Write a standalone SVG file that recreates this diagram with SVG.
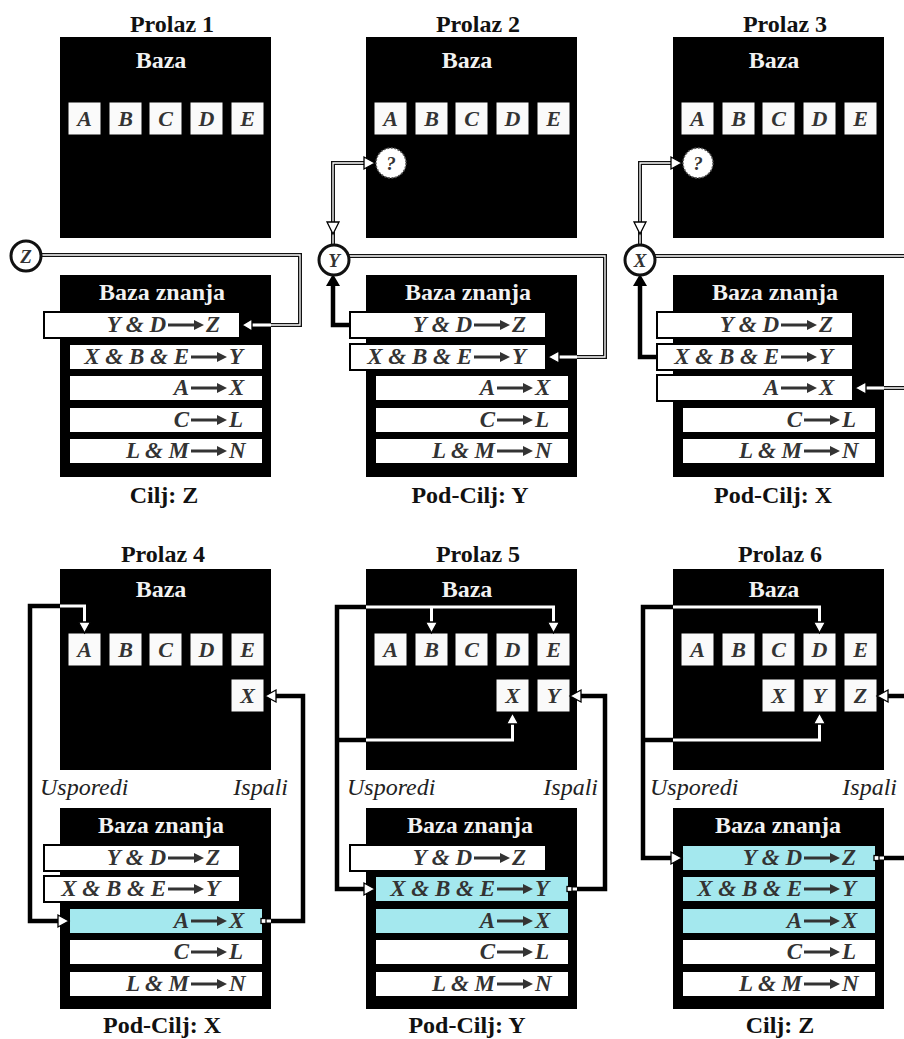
<svg xmlns="http://www.w3.org/2000/svg" xmlns:xlink="http://www.w3.org/1999/xlink" width="904" height="1039" viewBox="0 0 904 1039">
<style>
.t{font-family:"Liberation Serif","Times New Roman",serif;font-weight:bold;font-size:24px;fill:#111;text-anchor:middle}
.w{fill:#f2f2f2}
.bx{fill:#000}
.lb{fill:#fafafa;stroke:#000;stroke-width:1}
.lt{font-family:"Liberation Serif","Times New Roman",serif;font-style:italic;font-weight:bold;font-size:22px;fill:#333;text-anchor:middle}
.row{fill:#fff;stroke:#000;stroke-width:2}
.hl{fill:#a4e8ee;stroke:#000;stroke-width:2}
.rt{font-family:"Liberation Serif","Times New Roman",serif;font-style:italic;font-weight:bold;font-size:23px;fill:#333;text-anchor:end}
.rl{font-family:"Liberation Serif","Times New Roman",serif;font-style:italic;font-weight:bold;font-size:23px;fill:#333;text-anchor:start}
.lab{font-family:"Liberation Serif","Times New Roman",serif;font-style:italic;font-size:24px;fill:#222}
.c{fill:none;stroke:#000;stroke-width:4.5}
.cw{fill:none;stroke:#fff;stroke-width:3}
.d{fill:none;stroke:#111;stroke-width:4}
.dw{fill:none;stroke:#fff;stroke-width:1.3}
.ah{fill:#fff;stroke:#000;stroke-width:1.3}
.af{fill:#000}
.circ{fill:#fff;stroke:#111;stroke-width:3}
.q{fill:#fff;stroke:#555;stroke-width:1.5;stroke-dasharray:2 1.5}
.ct{font-family:"Liberation Serif","Times New Roman",serif;font-style:italic;font-weight:bold;font-size:19px;fill:#333;text-anchor:middle}
</style>
<defs>
<g id="ra"><line x1="0" y1="0" x2="28" y2="0" stroke="#333" stroke-width="3"/><polygon points="26,-5 36,0 26,5" fill="#333"/></g>
<clipPath id="k1"><rect x="60" y="37" width="211" height="201"/><rect x="60" y="275" width="211" height="202"/></clipPath>
<clipPath id="k2"><rect x="366" y="37" width="211" height="201"/><rect x="366" y="275" width="211" height="202"/></clipPath>
<clipPath id="k3"><rect x="673" y="37" width="211" height="201"/><rect x="673" y="275" width="211" height="202"/></clipPath>
<clipPath id="k4"><rect x="60" y="569" width="211" height="201"/><rect x="60" y="808" width="211" height="201"/></clipPath>
<clipPath id="k5"><rect x="366" y="569" width="211" height="201"/><rect x="366" y="808" width="211" height="201"/></clipPath>
<clipPath id="k6"><rect x="673" y="569" width="211" height="201"/><rect x="673" y="808" width="211" height="201"/></clipPath>
</defs>
<rect width="904" height="1039" fill="#fff"/>

<!-- ===== Prolaz 1 ===== -->
<g id="prolaz1">
<text class="t" x="172" y="32">Prolaz 1</text>
<rect class="bx" x="60" y="37" width="211" height="201"/>
<text class="t w" x="161" y="68">Baza</text>
<rect class="lb" x="68" y="102" width="33" height="33"/><text class="lt" x="84.5" y="126">A</text>
<rect class="lb" x="109" y="102" width="33" height="33"/><text class="lt" x="125.5" y="126">B</text>
<rect class="lb" x="149" y="102" width="33" height="33"/><text class="lt" x="165.5" y="126">C</text>
<rect class="lb" x="190" y="102" width="33" height="33"/><text class="lt" x="206.5" y="126">D</text>
<rect class="lb" x="231" y="102" width="33" height="33"/><text class="lt" x="247.5" y="126">E</text>
<rect class="bx" x="60" y="275" width="211" height="202"/>
<text class="t w" x="162" y="300">Baza znanja</text>
<rect class="row" x="44" y="312" width="196" height="26"/><text class="rt" x="166" y="332">Y &amp; D</text><use xlink:href="#ra" x="168" y="325"/><text class="rl" x="206" y="332">Z</text>
<rect class="row" x="69" y="344" width="194" height="26"/><text class="rt" x="189" y="364">X &amp; B &amp; E</text><use xlink:href="#ra" x="191" y="357"/><text class="rl" x="229" y="364">Y</text>
<rect class="row" x="69" y="375" width="194" height="26"/><text class="rt" x="189" y="395">A</text><use xlink:href="#ra" x="191" y="388"/><text class="rl" x="229" y="395">X</text>
<rect class="row" x="69" y="407" width="194" height="26"/><text class="rt" x="189" y="427">C</text><use xlink:href="#ra" x="191" y="420"/><text class="rl" x="229" y="427">L</text>
<rect class="row" x="69" y="438" width="194" height="26"/><text class="rt" x="189" y="458">L &amp; M</text><use xlink:href="#ra" x="191" y="451"/><text class="rl" x="229" y="458">N</text>
<text class="t" x="164" y="503">Cilj: Z</text>
</g>

<!-- ===== Prolaz 2 ===== -->
<g id="prolaz2">
<text class="t" x="478" y="32">Prolaz 2</text>
<rect class="bx" x="366" y="37" width="211" height="201"/>
<text class="t w" x="467" y="68">Baza</text>
<rect class="lb" x="374" y="102" width="33" height="33"/><text class="lt" x="390.5" y="126">A</text>
<rect class="lb" x="415" y="102" width="33" height="33"/><text class="lt" x="431.5" y="126">B</text>
<rect class="lb" x="455" y="102" width="33" height="33"/><text class="lt" x="471.5" y="126">C</text>
<rect class="lb" x="496" y="102" width="33" height="33"/><text class="lt" x="512.5" y="126">D</text>
<rect class="lb" x="537" y="102" width="33" height="33"/><text class="lt" x="553.5" y="126">E</text>
<rect class="bx" x="366" y="275" width="211" height="202"/>
<text class="t w" x="468" y="300">Baza znanja</text>
<rect class="row" x="350" y="312" width="196" height="26"/><text class="rt" x="472" y="332">Y &amp; D</text><use xlink:href="#ra" x="474" y="325"/><text class="rl" x="512" y="332">Z</text>
<rect class="row" x="350" y="344" width="196" height="26"/><text class="rt" x="472" y="364">X &amp; B &amp; E</text><use xlink:href="#ra" x="474" y="357"/><text class="rl" x="512" y="364">Y</text>
<rect class="row" x="375" y="375" width="194" height="26"/><text class="rt" x="495" y="395">A</text><use xlink:href="#ra" x="497" y="388"/><text class="rl" x="535" y="395">X</text>
<rect class="row" x="375" y="407" width="194" height="26"/><text class="rt" x="495" y="427">C</text><use xlink:href="#ra" x="497" y="420"/><text class="rl" x="535" y="427">L</text>
<rect class="row" x="375" y="438" width="194" height="26"/><text class="rt" x="495" y="458">L &amp; M</text><use xlink:href="#ra" x="497" y="451"/><text class="rl" x="535" y="458">N</text>
<text class="t" x="470" y="503">Pod-Cilj: Y</text>
</g>

<!-- ===== Prolaz 3 ===== -->
<g id="prolaz3">
<text class="t" x="785" y="32">Prolaz 3</text>
<rect class="bx" x="673" y="37" width="211" height="201"/>
<text class="t w" x="774" y="68">Baza</text>
<rect class="lb" x="681" y="102" width="33" height="33"/><text class="lt" x="697.5" y="126">A</text>
<rect class="lb" x="722" y="102" width="33" height="33"/><text class="lt" x="738.5" y="126">B</text>
<rect class="lb" x="762" y="102" width="33" height="33"/><text class="lt" x="778.5" y="126">C</text>
<rect class="lb" x="803" y="102" width="33" height="33"/><text class="lt" x="819.5" y="126">D</text>
<rect class="lb" x="844" y="102" width="33" height="33"/><text class="lt" x="860.5" y="126">E</text>
<rect class="bx" x="673" y="275" width="211" height="202"/>
<text class="t w" x="775" y="300">Baza znanja</text>
<rect class="row" x="657" y="312" width="196" height="26"/><text class="rt" x="779" y="332">Y &amp; D</text><use xlink:href="#ra" x="781" y="325"/><text class="rl" x="819" y="332">Z</text>
<rect class="row" x="657" y="344" width="196" height="26"/><text class="rt" x="779" y="364">X &amp; B &amp; E</text><use xlink:href="#ra" x="781" y="357"/><text class="rl" x="819" y="364">Y</text>
<rect class="row" x="657" y="375" width="196" height="26"/><text class="rt" x="779" y="395">A</text><use xlink:href="#ra" x="781" y="388"/><text class="rl" x="819" y="395">X</text>
<rect class="row" x="682" y="407" width="194" height="26"/><text class="rt" x="802" y="427">C</text><use xlink:href="#ra" x="804" y="420"/><text class="rl" x="842" y="427">L</text>
<rect class="row" x="682" y="438" width="194" height="26"/><text class="rt" x="802" y="458">L &amp; M</text><use xlink:href="#ra" x="804" y="451"/><text class="rl" x="842" y="458">N</text>
<text class="t" x="773" y="503">Pod-Cilj: X</text>
</g>

<!-- ===== Prolaz 4 ===== -->
<g id="prolaz4">
<text class="t" x="163" y="562">Prolaz 4</text>
<rect class="bx" x="60" y="569" width="211" height="201"/>
<text class="t w" x="161" y="597">Baza</text>
<rect class="lb" x="68" y="633" width="33" height="33"/><text class="lt" x="84.5" y="657">A</text>
<rect class="lb" x="109" y="633" width="33" height="33"/><text class="lt" x="125.5" y="657">B</text>
<rect class="lb" x="149" y="633" width="33" height="33"/><text class="lt" x="165.5" y="657">C</text>
<rect class="lb" x="190" y="633" width="33" height="33"/><text class="lt" x="206.5" y="657">D</text>
<rect class="lb" x="231" y="633" width="33" height="33"/><text class="lt" x="247.5" y="657">E</text>
<rect class="lb" x="231" y="679" width="33" height="33"/><text class="lt" x="247.5" y="703">X</text>
<text class="lab" x="40" y="795">Usporedi</text>
<text class="lab" x="288" y="795" text-anchor="end">Ispali</text>
<rect class="bx" x="60" y="808" width="211" height="201"/>
<text class="t w" x="161" y="833">Baza znanja</text>
<rect class="row" x="44" y="845" width="196" height="26"/><text class="rt" x="166" y="865">Y &amp; D</text><use xlink:href="#ra" x="168" y="858"/><text class="rl" x="206" y="865">Z</text>
<rect class="row" x="44" y="876" width="196" height="26"/><text class="rt" x="166" y="896">X &amp; B &amp; E</text><use xlink:href="#ra" x="168" y="889"/><text class="rl" x="206" y="896">Y</text>
<rect class="hl" x="69" y="908" width="194" height="26"/><text class="rt" x="189" y="928">A</text><use xlink:href="#ra" x="191" y="921"/><text class="rl" x="229" y="928">X</text>
<rect class="row" x="69" y="939" width="194" height="26"/><text class="rt" x="189" y="959">C</text><use xlink:href="#ra" x="191" y="952"/><text class="rl" x="229" y="959">L</text>
<rect class="row" x="69" y="971" width="194" height="26"/><text class="rt" x="189" y="991">L &amp; M</text><use xlink:href="#ra" x="191" y="984"/><text class="rl" x="229" y="991">N</text>
<text class="t" x="162" y="1033">Pod-Cilj: X</text>
</g>

<!-- ===== Prolaz 5 ===== -->
<g id="prolaz5">
<text class="t" x="478" y="562">Prolaz 5</text>
<rect class="bx" x="366" y="569" width="211" height="201"/>
<text class="t w" x="467" y="597">Baza</text>
<rect class="lb" x="374" y="633" width="33" height="33"/><text class="lt" x="390.5" y="657">A</text>
<rect class="lb" x="415" y="633" width="33" height="33"/><text class="lt" x="431.5" y="657">B</text>
<rect class="lb" x="455" y="633" width="33" height="33"/><text class="lt" x="471.5" y="657">C</text>
<rect class="lb" x="496" y="633" width="33" height="33"/><text class="lt" x="512.5" y="657">D</text>
<rect class="lb" x="537" y="633" width="33" height="33"/><text class="lt" x="553.5" y="657">E</text>
<rect class="lb" x="496" y="679" width="33" height="33"/><text class="lt" x="512.5" y="703">X</text>
<rect class="lb" x="537" y="679" width="33" height="33"/><text class="lt" x="553.5" y="703">Y</text>
<text class="lab" x="347" y="795">Usporedi</text>
<text class="lab" x="598" y="795" text-anchor="end">Ispali</text>
<rect class="bx" x="366" y="808" width="211" height="201"/>
<text class="t w" x="470" y="833">Baza znanja</text>
<rect class="row" x="350" y="845" width="196" height="26"/><text class="rt" x="472" y="865">Y &amp; D</text><use xlink:href="#ra" x="474" y="858"/><text class="rl" x="512" y="865">Z</text>
<rect class="hl" x="375" y="876" width="194" height="26"/><text class="rt" x="495" y="896">X &amp; B &amp; E</text><use xlink:href="#ra" x="497" y="889"/><text class="rl" x="535" y="896">Y</text>
<rect class="hl" x="375" y="908" width="194" height="26"/><text class="rt" x="495" y="928">A</text><use xlink:href="#ra" x="497" y="921"/><text class="rl" x="535" y="928">X</text>
<rect class="row" x="375" y="939" width="194" height="26"/><text class="rt" x="495" y="959">C</text><use xlink:href="#ra" x="497" y="952"/><text class="rl" x="535" y="959">L</text>
<rect class="row" x="375" y="971" width="194" height="26"/><text class="rt" x="495" y="991">L &amp; M</text><use xlink:href="#ra" x="497" y="984"/><text class="rl" x="535" y="991">N</text>
<text class="t" x="467" y="1033">Pod-Cilj: Y</text>
</g>

<!-- ===== Prolaz 6 ===== -->
<g id="prolaz6">
<text class="t" x="780" y="562">Prolaz 6</text>
<rect class="bx" x="673" y="569" width="211" height="201"/>
<text class="t w" x="774" y="597">Baza</text>
<rect class="lb" x="681" y="633" width="33" height="33"/><text class="lt" x="697.5" y="657">A</text>
<rect class="lb" x="722" y="633" width="33" height="33"/><text class="lt" x="738.5" y="657">B</text>
<rect class="lb" x="762" y="633" width="33" height="33"/><text class="lt" x="778.5" y="657">C</text>
<rect class="lb" x="803" y="633" width="33" height="33"/><text class="lt" x="819.5" y="657">D</text>
<rect class="lb" x="844" y="633" width="33" height="33"/><text class="lt" x="860.5" y="657">E</text>
<rect class="lb" x="762" y="679" width="33" height="33"/><text class="lt" x="778.5" y="703">X</text>
<rect class="lb" x="803" y="679" width="33" height="33"/><text class="lt" x="819.5" y="703">Y</text>
<rect class="lb" x="844" y="679" width="33" height="33"/><text class="lt" x="860.5" y="703">Z</text>
<text class="lab" x="650" y="795">Usporedi</text>
<text class="lab" x="897" y="795" text-anchor="end">Ispali</text>
<rect class="bx" x="673" y="808" width="211" height="201"/>
<text class="t w" x="778" y="833">Baza znanja</text>
<rect class="hl" x="682" y="845" width="194" height="26"/><text class="rt" x="802" y="865">Y &amp; D</text><use xlink:href="#ra" x="804" y="858"/><text class="rl" x="842" y="865">Z</text>
<rect class="hl" x="682" y="876" width="194" height="26"/><text class="rt" x="802" y="896">X &amp; B &amp; E</text><use xlink:href="#ra" x="804" y="889"/><text class="rl" x="842" y="896">Y</text>
<rect class="hl" x="682" y="908" width="194" height="26"/><text class="rt" x="802" y="928">A</text><use xlink:href="#ra" x="804" y="921"/><text class="rl" x="842" y="928">X</text>
<rect class="row" x="682" y="939" width="194" height="26"/><text class="rt" x="802" y="959">C</text><use xlink:href="#ra" x="804" y="952"/><text class="rl" x="842" y="959">L</text>
<rect class="row" x="682" y="971" width="194" height="26"/><text class="rt" x="802" y="991">L &amp; M</text><use xlink:href="#ra" x="804" y="984"/><text class="rl" x="842" y="991">N</text>
<text class="t" x="780" y="1033">Cilj: Z</text>
</g>

<!-- ===== Connectors ===== -->
<g id="connectors">
<path class="d" d="M40 255 H300 V325 H252"/>
<path class="dw" d="M40 255 H300 V325 H252"/>
<path class="cw" clip-path="url(#k1)" d="M300 325 H252"/>
<path class="d" d="M333 245 V163 H366"/>
<path class="dw" d="M333 245 V163 H366"/>
<path class="d" d="M348 256 H605 V357 H559"/>
<path class="dw" d="M348 256 H605 V357 H559"/>
<path class="cw" clip-path="url(#k2)" d="M605 357 H559"/>
<path class="c" d="M350 325 H333 V284"/>
<path class="d" d="M640 245 V163 H672"/>
<path class="dw" d="M640 245 V163 H672"/>
<path class="d" d="M654 256 H904"/>
<path class="dw" d="M654 256 H904"/>
<path class="d" d="M904 388 H866"/>
<path class="dw" d="M904 388 H866"/>
<path class="cw" clip-path="url(#k3)" d="M904 388 H866"/>
<path class="c" d="M657 357 H640 V284"/>

<path class="c" d="M58 921 H30 V606 H84.5 V623"/>
<path class="cw" clip-path="url(#k4)" d="M58 921 H30 V606 H84.5 V623"/>
<path class="c" d="M263 921 H303 V696 H276"/>
<path class="cw" clip-path="url(#k4)" d="M263 921 H303 V696 H276"/>

<path class="c" d="M364 889 H337 V607 H553.5 V623 M431.5 607 V623 M337 740 H512.5 V724"/>
<path class="cw" clip-path="url(#k5)" d="M364 889 H337 V607 H553.5 V623 M431.5 607 V623 M337 740 H512.5 V724"/>
<path class="c" d="M569 889 H605 V696 H581"/>
<path class="cw" clip-path="url(#k5)" d="M569 889 H605 V696 H581"/>

<path class="c" d="M671 858 H643 V607 H819.5 V623 M643 740 H819.5 V724"/>
<path class="cw" clip-path="url(#k6)" d="M671 858 H643 V607 H819.5 V623 M643 740 H819.5 V724"/>
<path class="c" d="M876 858 H904"/>
<path class="cw" clip-path="url(#k6)" d="M876 858 H904"/>
<path class="c" d="M904 696 H888"/>

<polygon class="ah" points="252,319 252,331 242,325"/>
<polygon class="ah" points="364,157 364,169 375,163"/>
<polygon class="ah" points="327,222 339,222 333,234"/>
<polygon class="ah" points="559,351 559,363 548,357"/>
<polygon class="af" points="326,286 340,286 333,274"/>
<polygon class="ah" points="671,157 671,169 682,163"/>
<polygon class="ah" points="634,222 646,222 640,234"/>
<polygon class="ah" points="866,382 866,394 855,388"/>
<polygon class="af" points="633,286 647,286 640,274"/>

<polygon class="ah" points="58,915 58,927 69,921"/>
<polygon class="ah" points="78.5,622 90.5,622 84.5,633"/>
<polygon class="ah" points="276,690 276,702 265,696"/>
<rect class="ah" x="261" y="918.5" width="5" height="5"/>

<polygon class="ah" points="364,883 364,895 375,889"/>
<polygon class="ah" points="425.5,622 437.5,622 431.5,633"/>
<polygon class="ah" points="547.5,622 559.5,622 553.5,633"/>
<polygon class="ah" points="506.5,724 518.5,724 512.5,713"/>
<polygon class="ah" points="581,690 581,702 570,696"/>
<rect class="ah" x="567" y="886.5" width="5" height="5"/>

<polygon class="ah" points="671,852 671,864 682,858"/>
<polygon class="ah" points="813.5,622 825.5,622 819.5,633"/>
<polygon class="ah" points="813.5,724 825.5,724 819.5,713"/>
<polygon class="ah" points="888,690 888,702 877,696"/>
<rect class="ah" x="874" y="855.5" width="5" height="5"/>
</g>

<g id="circleZ"><circle class="circ" cx="26" cy="256" r="15"/><text class="ct" x="26" y="263">Z</text></g>
<g id="circleQ2"><circle class="q" cx="391" cy="163" r="15"/><text class="ct" x="391" y="170" font-style="normal">?</text></g>
<g id="circleY"><circle class="circ" cx="334" cy="260" r="15"/><text class="ct" x="334" y="267">Y</text></g>
<g id="circleQ3"><circle class="q" cx="698" cy="163" r="15"/><text class="ct" x="698" y="170" font-style="normal">?</text></g>
<g id="circleX"><circle class="circ" cx="640" cy="260" r="15"/><text class="ct" x="640" y="267">X</text></g>
</svg>
